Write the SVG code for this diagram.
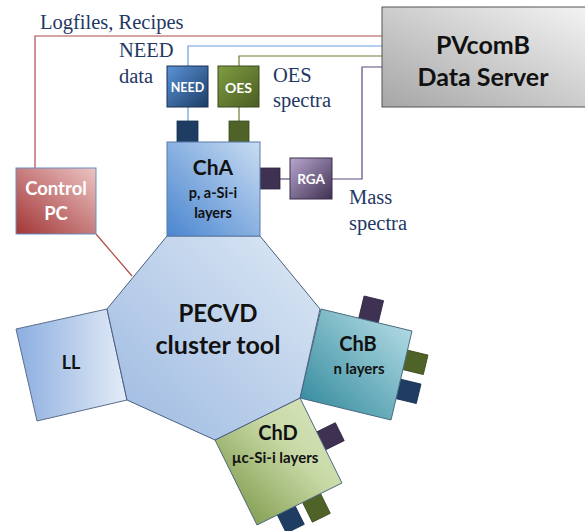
<svg xmlns="http://www.w3.org/2000/svg" width="585" height="531" viewBox="0 0 585 531">
<style>
.lbl{font-family:"Liberation Serif","DejaVu Serif",serif;font-size:20.5px;fill:#1f3864}
.b{font-family:Lato,"Open Sans","Liberation Sans",sans-serif;font-weight:bold;text-anchor:middle}
.blk{fill:#111}
.wht{fill:#fff}
.pb{fill:#1f3d63;stroke:#16304f;stroke-width:0.8}
.pg{fill:#4f6228;stroke:#3a4a1c;stroke-width:0.8}
.pp{fill:#3f3151;stroke:#2e2340;stroke-width:0.8}
</style>
<defs>
<linearGradient id="gChA" x1="0" y1="1" x2="1" y2="0"><stop offset="0" stop-color="#4a86d0"/><stop offset="1" stop-color="#c9dcf2"/></linearGradient>
<linearGradient id="gHep" x1="0" y1="1" x2="1" y2="0"><stop offset="0" stop-color="#9cb9e1"/><stop offset="1" stop-color="#dde8f4"/></linearGradient>
<linearGradient id="gLL" x1="0" y1="0" x2="1" y2="0"><stop offset="0" stop-color="#8caee0"/><stop offset="1" stop-color="#e4ecf7"/></linearGradient>
<linearGradient id="gChB" x1="0" y1="1" x2="1" y2="0"><stop offset="0" stop-color="#2b8599"/><stop offset="1" stop-color="#bde2ea"/></linearGradient>
<linearGradient id="gChD" x1="0" y1="1" x2="1" y2="0"><stop offset="0" stop-color="#6f8d38"/><stop offset="0.6" stop-color="#c8d9a6"/><stop offset="1" stop-color="#dce7c2"/></linearGradient>
<linearGradient id="gPC" x1="0" y1="1" x2="1" y2="0"><stop offset="0" stop-color="#a23636"/><stop offset="1" stop-color="#ecc4c3"/></linearGradient>
<linearGradient id="gSrv" x1="0" y1="1" x2="1" y2="0"><stop offset="0" stop-color="#a6a6a6"/><stop offset="1" stop-color="#f4f4f4"/></linearGradient>
<linearGradient id="gNeed" x1="0" y1="0" x2="1" y2="1"><stop offset="0" stop-color="#5b93d8"/><stop offset="1" stop-color="#1b3d66"/></linearGradient>
<linearGradient id="gOES" x1="0" y1="0" x2="1" y2="1"><stop offset="0" stop-color="#7f9d40"/><stop offset="1" stop-color="#4a5d24"/></linearGradient>
<linearGradient id="gRGA" x1="0" y1="0" x2="1" y2="1"><stop offset="0" stop-color="#b9a6d0"/><stop offset="1" stop-color="#3f3151"/></linearGradient>
</defs>

<g id="connectors" fill="none" stroke-width="1.2">
<polyline points="35,168 35,36 382,36" stroke="#b04a48"/>
<line x1="96" y1="234" x2="132" y2="276" stroke="#b04a48"/>
<polyline points="188,66 188,46 382,46" stroke="#6a9de0"/>
<line x1="188" y1="107" x2="188" y2="122" stroke="#6a9de0"/>
<polyline points="239,66 239,56 382,56" stroke="#6a7f35"/>
<line x1="239" y1="107" x2="239" y2="122" stroke="#6a7f35"/>
<polyline points="332,179 362,179 362,67 382,67" stroke="#5f497a"/>
<line x1="280" y1="179" x2="290" y2="179" stroke="#5f497a"/>
</g>

<g id="ports">
<rect class="pb" x="177" y="121" width="21" height="22"/>
<rect class="pg" x="229" y="121" width="20" height="22"/>
<rect class="pp" x="259" y="168" width="21" height="21"/>
<rect class="pp" x="-10" y="-12" width="20" height="24" transform="translate(371,310) rotate(13.6)"/>
<rect class="pg" x="-12" y="-10" width="24" height="20" transform="translate(414,362) rotate(13.6)"/>
<rect class="pb" x="-12" y="-10" width="24" height="20" transform="translate(407,391) rotate(13.6)"/>
<rect class="pp" x="-12" y="-10" width="24" height="20" transform="translate(329,437) rotate(-26.3)"/>
<rect class="pg" x="-10" y="-12" width="20" height="24" transform="translate(316,507) rotate(-26.3)"/>
<rect class="pb" x="-10" y="-12" width="20" height="24" transform="translate(290,518) rotate(-26.3)"/>
</g>

<g id="server">
<rect x="382" y="7" width="210" height="100" fill="url(#gSrv)" stroke="#555" stroke-width="1"/>
<text class="b blk" x="483" y="54" font-size="25">PVcomB</text>
<text class="b blk" x="483" y="86" font-size="25">Data Server</text>
</g>

<g id="need">
<rect x="167" y="66" width="41" height="41" fill="url(#gNeed)" stroke="#1b3050" stroke-width="1"/>
<text class="b wht" x="187.5" y="92" font-size="12.5">NEED</text>
</g>
<g id="oes">
<rect x="218" y="66" width="41" height="41" fill="url(#gOES)" stroke="#3a4a1c" stroke-width="1"/>
<text class="b wht" x="238.5" y="93" font-size="14">OES</text>
</g>
<g id="rga">
<rect x="290" y="158" width="42" height="41" fill="url(#gRGA)" stroke="#3a2e4a" stroke-width="1"/>
<text class="b wht" x="311" y="184" font-size="13.5">RGA</text>
</g>

<g id="controlpc">
<rect x="16" y="168" width="80" height="66" fill="url(#gPC)" stroke="#6b8cc0" stroke-width="1"/>
<text class="b wht" x="56" y="195" font-size="18.5">Control</text>
<text class="b wht" x="56" y="220" font-size="18.5">PC</text>
</g>

<g id="ll">
<polygon points="16,329 107,309 127,400 37,421" fill="url(#gLL)" stroke="#5a6e8a" stroke-width="1"/>
<text class="b blk" x="71" y="369" font-size="18">LL</text>
</g>

<g id="chb">
<polygon points="321,309 412,331 391,420 300,398" fill="url(#gChB)" stroke="#4a6a80" stroke-width="1"/>
<text class="b blk" x="358" y="351" font-size="20">ChB</text>
<text class="b blk" x="359" y="374" font-size="15">n layers</text>
</g>

<g id="chd">
<polygon points="215,440 300,398 342,483 257,525" fill="url(#gChD)" stroke="#4a6a80" stroke-width="1"/>
<text class="b blk" x="278" y="440" font-size="20">ChD</text>
<text class="b blk" x="275" y="463" font-size="15">µc-Si-i layers</text>
</g>

<g id="pecvd">
<polygon points="167,236 260,236 320,309 300,398 215,440 127,400 107,309" fill="url(#gHep)" stroke="#4a6080" stroke-width="1"/>
<text class="b blk" x="218" y="322" font-size="24">PECVD</text>
<text class="b blk" x="218" y="354" font-size="25">cluster tool</text>
</g>

<g id="cha">
<rect x="167" y="142" width="93" height="94" fill="url(#gChA)" stroke="#5a7aa8" stroke-width="1"/>
<text class="b blk" x="213" y="175" font-size="21">ChA</text>
<text class="b blk" x="213" y="198" font-size="14.5">p, a-Si-i</text>
<text class="b blk" x="213" y="218" font-size="14.5">layers</text>
</g>

<g id="labels">
<text class="lbl" x="40" y="29">Logfiles, Recipes</text>
<text class="lbl" x="119" y="57">NEED</text>
<text class="lbl" x="119" y="83">data</text>
<text class="lbl" x="273" y="82">OES</text>
<text class="lbl" x="273" y="107">spectra</text>
<text class="lbl" x="349" y="204">Mass</text>
<text class="lbl" x="349" y="230">spectra</text>
</g>
</svg>
